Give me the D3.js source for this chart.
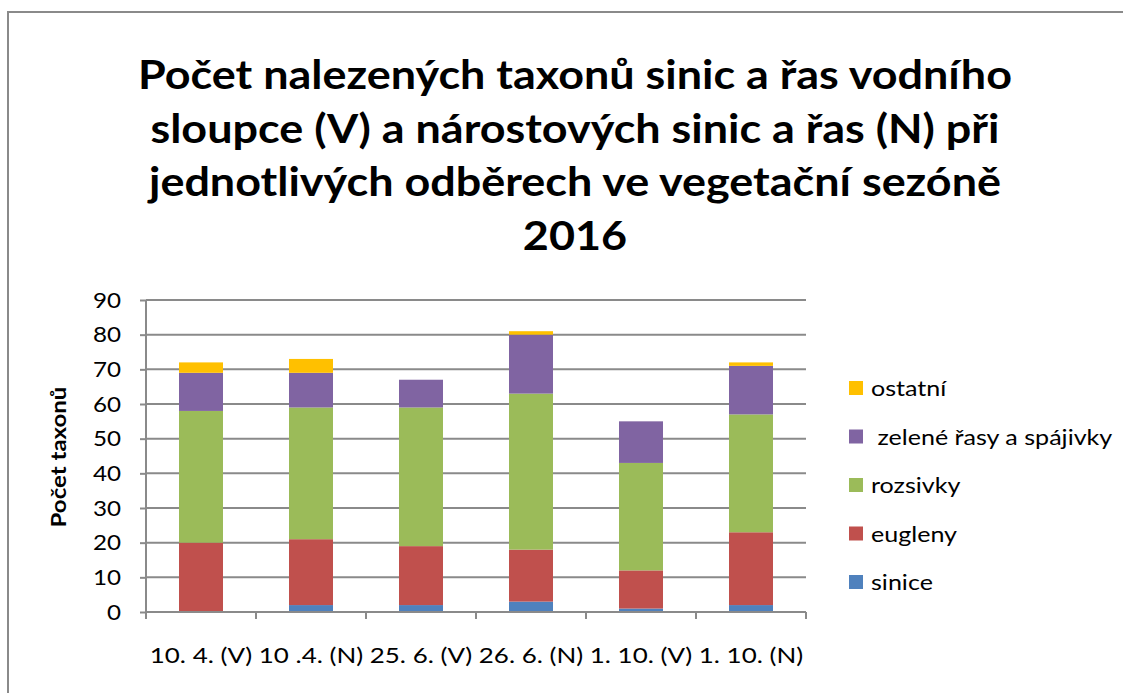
<!DOCTYPE html>
<html lang="cs">
<head>
    <meta charset="UTF-8">
    <title>Počet nalezených taxonů</title>
    <script src="https://d3js.org/d3.v7.min.js"></script>
    <style>
        body {
            margin: 0;
            padding: 0;
            background: #fff;
            font-family: Lato, "Open Sans", sans-serif;
        }
        svg text { fill: #000; }
    </style>
</head>
<body>
    <svg width="1123" height="693"></svg>

    <script>
        // data
        const categories = ["10. 4. (V)", "10 .4. (N)", "25. 6. (V)", "26. 6. (N)", "1. 10. (V)", "1. 10. (N)"];
        const seriesNames = ["sinice", "eugleny", "rozsivky", " zelené řasy a spájivky", "ostatní"];
        const sinice   = [0, 2, 2, 3, 1, 2];
        const eugleny  = [20, 19, 17, 15, 11, 21];
        const rozsivky = [38, 38, 40, 45, 31, 34];
        const zelene   = [11, 10, 8, 17, 12, 14];
        const ostatni  = [3, 4, 0, 1, 0, 1];
        const yTicks = [0, 10, 20, 30, 40, 50, 60, 70, 80, 90];
        const titleLines = [
            "Počet nalezených taxonů sinic a řas vodního",
            "sloupce (V) a nárostových sinic a řas (N) při",
            "jednotlivých odběrech ve vegetační sezóně",
            "2016"
        ];
        const colors = ["#4F81BD", "#C0504D", "#9BBB59", "#8064A2", "#FFC000"];

        const rows = categories.map((c, i) => ({
            cat: c,
            "sinice": sinice[i],
            "eugleny": eugleny[i],
            "rozsivky": rozsivky[i],
            " zelené řasy a spájivky": zelene[i],
            "ostatní": ostatni[i]
        }));

        // the original font is wider than Lato, so widen the glyphs a bit
        function widen(sel, k) {
            sel.each(function() {
                const w = this.getComputedTextLength();
                d3.select(this).attr("textLength", w * k).attr("lengthAdjust", "spacingAndGlyphs");
            });
        }

        const svg = d3.select("svg");
        const gridColor = "#8a8a8a";

        // outer frame
        svg.append("rect")
            .attr("x", 8).attr("y", 12)
            .attr("width", 1140).attr("height", 700)
            .attr("fill", "none")
            .attr("stroke", gridColor)
            .attr("stroke-width", 2);

        // title, one text per line
        const title = svg.append("g");
        title.selectAll("text")
            .data(titleLines)
            .join("text")
            .attr("x", 575)
            .attr("y", (d, i) => 89 + i * 53.7)
            .attr("text-anchor", "middle")
            .style("font-weight", "bold")
            .style("font-size", "40px")
            .text(d => d);
        const w0 = title.select("text").node().getComputedTextLength();
        widen(title.selectAll("text"), 874 / w0);

        const plot = { left: 146, right: 806, top: 300, bottom: 612 };

        const x = d3.scaleBand()
            .domain(categories)
            .range([plot.left, plot.right])
            .paddingInner(0.6)
            .paddingOuter(0.3);

        const y = d3.scaleLinear()
            .domain([0, 90])
            .range([plot.bottom, plot.top]);

        // gridlines
        svg.append("g")
            .selectAll("line")
            .data(yTicks.slice(1))
            .join("line")
            .attr("x1", plot.left).attr("x2", plot.right)
            .attr("y1", d => y(d)).attr("y2", d => y(d))
            .attr("stroke", gridColor)
            .attr("stroke-width", 2);

        // stacked bars
        const stack = d3.stack().keys(seriesNames)(rows);
        svg.append("g")
            .selectAll("g")
            .data(stack)
            .join("g")
            .attr("fill", (d, i) => colors[i])
            .selectAll("rect")
            .data(d => d.filter(s => s[1] - s[0] > 0))
            .join("rect")
            .attr("x", d => x(d.data.cat))
            .attr("y", d => y(d[1]))
            .attr("width", x.bandwidth())
            .attr("height", d => y(d[0]) - y(d[1]));

        // y axis
        const yAxis = svg.append("g")
            .attr("transform", `translate(${plot.left},0)`)
            .call(d3.axisLeft(y).tickValues(yTicks).tickSize(6).tickPadding(19));
        yAxis.select(".domain").attr("stroke", gridColor).attr("stroke-width", 2)
            .attr("d", `M0,${plot.top}V${plot.bottom}`);
        yAxis.selectAll(".tick line").attr("stroke", gridColor).attr("stroke-width", 2);
        yAxis.selectAll(".tick text")
            .style("font-family", "Lato, sans-serif")
            .style("font-size", "22px");
        widen(yAxis.selectAll(".tick text"), 1.1);

        // x axis: ticks between categories
        const xAxis = svg.append("g")
            .attr("transform", `translate(0,${plot.bottom})`);
        xAxis.append("line")
            .attr("x1", plot.left).attr("x2", plot.right)
            .attr("stroke", gridColor).attr("stroke-width", 2);
        const step = x.step();
        xAxis.selectAll(".sep")
            .data(d3.range(categories.length + 1))
            .join("line")
            .attr("class", "sep")
            .attr("x1", i => plot.left + i * step)
            .attr("x2", i => plot.left + i * step)
            .attr("y1", 0).attr("y2", 7)
            .attr("stroke", gridColor).attr("stroke-width", 2);
        const xLabels = xAxis.selectAll("text")
            .data(categories)
            .join("text")
            .attr("x", d => x(d) + x.bandwidth() / 2)
            .attr("y", 51)
            .attr("text-anchor", "middle")
            .style("font-size", "22px")
            .text(d => d);
        widen(xLabels, 1.18);

        // y axis title
        const yTitle = svg.append("text")
            .attr("transform", "translate(66,457) rotate(-90)")
            .attr("text-anchor", "middle")
            .style("font-weight", "bold")
            .style("font-size", "20px")
            .text("Počet taxonů");
        widen(yTitle, 1.2);

        // legend (top item = last series)
        const legendItems = seriesNames.map((n, i) => ({ name: n, color: colors[i] })).reverse();
        const legend = svg.append("g")
            .selectAll("g")
            .data(legendItems)
            .join("g")
            .attr("transform", (d, i) => `translate(849,${388 + i * 48.5})`);
        legend.append("rect")
            .attr("x", 0).attr("y", -7)
            .attr("width", 14).attr("height", 14)
            .attr("fill", d => d.color);
        const legText = legend.append("text")
            .attr("x", 22).attr("y", 8)
            .style("font-size", "22px")
            .attr("xml:space", "preserve")
            .text(d => d.name);
        widen(legText, 1.14);
    </script>
</body>
</html>
